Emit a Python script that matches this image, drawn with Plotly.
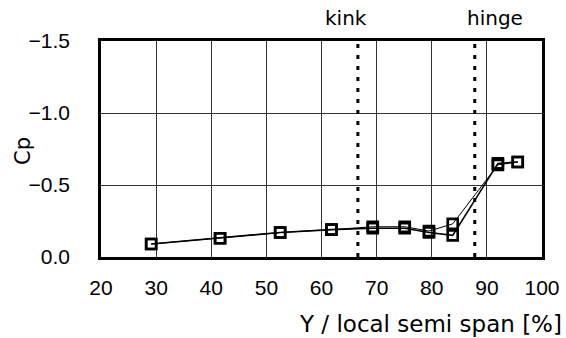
import plotly.graph_objects as go

# Spanwise stations [% of local semi span]
span_pct = [29.1, 41.6, 52.5, 61.8, 69.3, 75.1, 79.5, 83.8, 92.0, 95.6]
# Pressure coefficient, two runs
cp_run1 = [-0.09, -0.13, -0.17, -0.19, -0.20, -0.20, -0.17, -0.15, -0.65, -0.66]
cp_run2 = [-0.09, -0.13, -0.17, -0.19, -0.21, -0.21, -0.18, -0.23, -0.64, -0.66]

kink_pos = 66.6
hinge_pos = 87.8

x_ticks = [20, 30, 40, 50, 60, 70, 80, 90, 100]
y_ticks = [0.0, -0.5, -1.0, -1.5]
y_tick_text = ["0.0", "\u22120.5", "\u22121.0", "\u22121.5"]

TICK_FONT = "Liberation Sans, Arial, sans-serif"
TEXT_FONT = "DejaVu Sans, sans-serif"

fig = go.Figure()

fig.add_trace(go.Scatter(
    x=span_pct, y=cp_run2, mode="lines+markers",
    line=dict(color="black", width=1),
    marker=dict(symbol="square-open", size=10, color="black", line=dict(width=2.6)),
    showlegend=False,
))
fig.add_trace(go.Scatter(
    x=span_pct, y=cp_run1, mode="lines+markers",
    line=dict(color="black", width=1.6),
    marker=dict(symbol="square-open", size=10, color="black", line=dict(width=2.6)),
    showlegend=False,
))

for pos, label, shift in [(kink_pos, "kink", -12), (hinge_pos, "hinge", 20)]:
    fig.add_shape(type="line", x0=pos, x1=pos, y0=0, y1=1, yref="y domain",
                  xref="x", line=dict(color="black", width=3, dash="4px,7px"))
    fig.add_annotation(x=pos, y=1, xref="x", yref="y domain", text=label,
                       showarrow=False, yanchor="bottom", yshift=9, xshift=shift,
                       font=dict(family=TEXT_FONT, size=20, color="black"))

# Axis titles
fig.add_annotation(x=1, y=0, xref="paper", yref="paper", xanchor="right", yanchor="top",
                   yshift=-52, xshift=22, text="Y / local semi span [%]", showarrow=False,
                   font=dict(family=TEXT_FONT, size=23, color="black"))
fig.add_annotation(x=0, y=0.5, xref="paper", yref="paper", xanchor="center", yanchor="middle",
                   xshift=-78, yshift=-2, text="Cp", textangle=-90, showarrow=False,
                   font=dict(family=TEXT_FONT, size=21, color="black"))

fig.update_layout(
    width=566, height=338,
    margin=dict(l=101, r=24, t=41, b=81, autoexpand=False),
    paper_bgcolor="white", plot_bgcolor="white",
    font=dict(family=TICK_FONT, size=21, color="black"),
    xaxis=dict(range=[20, 100], tickvals=x_ticks, showgrid=True, gridcolor="#333333",
               gridwidth=1, zeroline=False, showline=True, linecolor="black", linewidth=2.5,
               mirror=True, ticks="", tickfont=dict(family=TICK_FONT, size=21),
               ticklabelstandoff=10, automargin=False),
    yaxis=dict(range=[0, -1.5], tickvals=y_ticks, ticktext=y_tick_text, showgrid=True,
               gridcolor="#333333", gridwidth=1, zeroline=False, showline=True,
               linecolor="black", linewidth=2.5, mirror=True, ticks="",
               tickfont=dict(family=TICK_FONT, size=21), ticklabelstandoff=24,
               automargin=False),
)

fig.write_html("out.html")
